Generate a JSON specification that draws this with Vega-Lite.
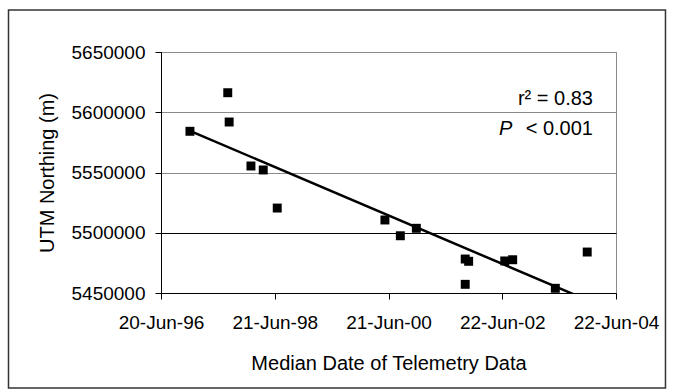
{
  "$schema": "https://vega.github.io/schema/vega-lite/v6.json",
  "width": 455,
  "height": 241,
  "autosize": {"type": "none"},
  "padding": {"left": 161, "top": 52, "right": 58, "bottom": 98},
  "background": "white",
  "config": {
    "font": "Liberation Sans",
    "view": {"stroke": "#8a8a8a", "strokeWidth": 1},
    "axis": {
      "labelFont": "Liberation Sans",
      "titleFont": "Liberation Sans",
      "labelColor": "#000000",
      "titleColor": "#000000",
      "titleFontWeight": "normal",
      "domainColor": "#000000",
      "tickColor": "#000000",
      "domainWidth": 1,
      "tickWidth": 1,
      "tickSize": 6,
      "labelOverlap": false,
      "labelBound": false,
      "labelFlush": false
    }
  },
  "data": {
    "values": [
      {"date": "1996-12-23", "northing": 5584200},
      {"date": "1997-08-23", "northing": 5616200},
      {"date": "1997-09-01", "northing": 5591900},
      {"date": "1998-01-19", "northing": 5555400},
      {"date": "1998-04-08", "northing": 5552100},
      {"date": "1998-07-07", "northing": 5520500},
      {"date": "2000-05-29", "northing": 5510600},
      {"date": "2000-09-05", "northing": 5497500},
      {"date": "2000-12-17", "northing": 5503700},
      {"date": "2001-10-27", "northing": 5478200},
      {"date": "2001-11-18", "northing": 5476300},
      {"date": "2001-10-27", "northing": 5457200},
      {"date": "2002-07-08", "northing": 5476600},
      {"date": "2002-08-28", "northing": 5477600},
      {"date": "2003-05-29", "northing": 5453900},
      {"date": "2003-12-20", "northing": 5484000}
    ],
    "format": {"parse": {"date": "date"}}
  },
  "encoding": {
    "x": {
      "field": "date",
      "type": "temporal",
      "scale": {
        "type": "utc",
        "domain": [
          {"year": 1996, "month": 6, "date": 20, "utc": true},
          {"year": 2004, "month": 6, "date": 22, "utc": true}
        ],
        "nice": false
      },
      "axis": {
        "title": "Median Date of Telemetry Data",
        "values": [
          {"year": 1996, "month": 6, "date": 20, "utc": true},
          {"year": 1998, "month": 6, "date": 21, "utc": true},
          {"year": 2000, "month": 6, "date": 21, "utc": true},
          {"year": 2002, "month": 6, "date": 22, "utc": true},
          {"year": 2004, "month": 6, "date": 22, "utc": true}
        ],
        "format": "%d-%b-%y",
        "grid": false,
        "labelFontSize": 19,
        "labelPadding": 14,
        "titleFontSize": 20,
        "titlePadding": 21
      }
    },
    "y": {
      "field": "northing",
      "type": "quantitative",
      "scale": {"domain": [5450000, 5650000], "nice": false, "zero": false},
      "axis": {
        "title": "UTM Northing (m)",
        "values": [5450000, 5500000, 5550000, 5600000, 5650000],
        "format": "d",
        "grid": true,
        "gridColor": {"condition": {"test": "datum.value === 5500000", "value": "#000000"}, "value": "#8a8a8a"},
        "gridWidth": 1,
        "labelFontSize": 19,
        "labelPadding": 10,
        "titleFontSize": 20,
        "titlePadding": 14
      }
    }
  },
  "layer": [
    {
      "transform": [{"window": [{"op": "row_number", "as": "i"}]}, {"filter": "datum.i === 1"}],
      "mark": {"type": "rect", "filled": false, "stroke": "#333333", "strokeWidth": 1.5, "clip": false},
      "encoding": {
        "x": {"datum": {"year": 1993, "month": 10, "date": 14, "utc": true}, "type": "temporal"},
        "x2": {"datum": {"year": 2005, "month": 5, "date": 6, "utc": true}},
        "y": {"datum": 5684855, "type": "quantitative"},
        "y2": {"datum": 5371161}
      }
    },
    {
      "mark": {"type": "square", "filled": true, "color": "#000000", "size": 80, "opacity": 1}
    },
    {
      "transform": [{"regression": "northing", "on": "date"}],
      "mark": {"type": "line", "color": "#000000", "strokeWidth": 2.5, "clip": true}
    },
    {
      "transform": [{"window": [{"op": "row_number", "as": "i"}]}, {"filter": "datum.i === 1"}],
      "mark": {"type": "text", "text": "r² = 0.83", "fontSize": 20, "fontWeight": "normal", "align": "right", "baseline": "alphabetic", "color": "#000000"},
      "encoding": {
        "x": {"datum": {"year": 2004, "month": 1, "date": 26, "utc": true}, "type": "temporal"},
        "y": {"datum": 5606000, "type": "quantitative"}
      }
    },
    {
      "transform": [{"window": [{"op": "row_number", "as": "i"}]}, {"filter": "datum.i === 1"}],
      "mark": {"type": "text", "text": "P", "fontSize": 20, "fontWeight": "normal", "fontStyle": "italic", "align": "left", "baseline": "alphabetic", "color": "#000000"},
      "encoding": {
        "x": {"datum": {"year": 2002, "month": 6, "date": 1, "utc": true}, "type": "temporal"},
        "y": {"datum": 5581100, "type": "quantitative"}
      }
    },
    {
      "transform": [{"window": [{"op": "row_number", "as": "i"}]}, {"filter": "datum.i === 1"}],
      "mark": {"type": "text", "text": "< 0.001", "fontSize": 20, "fontWeight": "normal", "align": "right", "baseline": "alphabetic", "color": "#000000"},
      "encoding": {
        "x": {"datum": {"year": 2004, "month": 1, "date": 26, "utc": true}, "type": "temporal"},
        "y": {"datum": 5581100, "type": "quantitative"}
      }
    }
  ]
}
